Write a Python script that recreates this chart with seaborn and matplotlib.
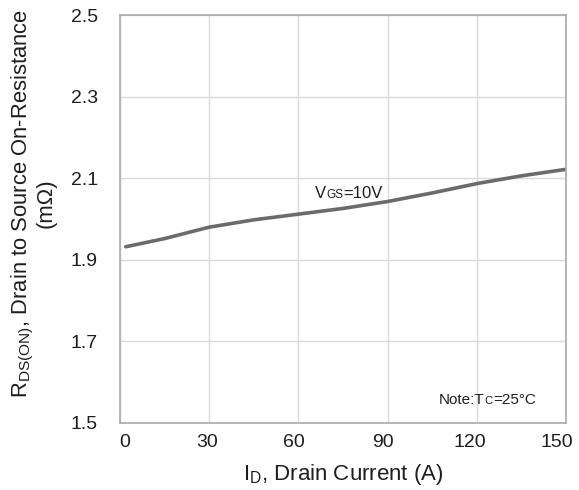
import matplotlib
matplotlib.use("Agg")
import matplotlib.pyplot as plt
import matplotlib.transforms as mtransforms
from matplotlib.offsetbox import TextArea, HPacker, AnnotationBbox
import seaborn as sns
import pandas as pd

# Data
current_a = [2, 15, 30, 45, 60, 75, 90, 105, 120, 135, 150]
rdson_mohm = [1.932, 1.952, 1.980, 1.998, 2.012, 2.026, 2.043, 2.064, 2.087, 2.106, 2.122]
x_ticks = [0, 30, 60, 90, 120, 150]
y_ticks = [1.5, 1.7, 1.9, 2.1, 2.3, 2.5]
curve_parts = ["V", "GS", "=10V"]
note_parts = ["Note:T", "C", "=25°C"]

sns.set_theme(style="white")
plt.rcParams["font.family"] = ["Liberation Sans", "DejaVu Sans"]
plt.rcParams["mathtext.fontset"] = "custom"
plt.rcParams["mathtext.rm"] = "Liberation Sans"
plt.rcParams["mathtext.it"] = "Liberation Sans"

df = pd.DataFrame({"I": current_a, "R": rdson_mohm})

fig, ax = plt.subplots(figsize=(5.79, 4.9), dpi=100)
fig.subplots_adjust(left=0.207, right=0.978, top=0.969, bottom=0.137)

sns.lineplot(data=df, x="I", y="R", ax=ax, color="#6b6b6b", linewidth=2.6)

ax.set_xlim(0, 150)
ax.set_ylim(1.5, 2.5)
ax.set_xticks(x_ticks)
ax.set_yticks(y_ticks)
ax.set_xticklabels([str(t) for t in x_ticks])
ax.set_yticklabels([f"{t:.1f}" for t in y_ticks])
ax.grid(True, color="#dadada", linewidth=1.0)
ax.tick_params(axis="both", length=0, labelsize=14, colors="#1e1e1e")
ax.tick_params(axis="y", pad=16)
ax.tick_params(axis="x", pad=8)
for s in ax.spines.values():
    s.set_color("#aaaaaa")
    s.set_linewidth(1.2)

# small horizontal shifts of the x tick labels as in the reference
x_shift_px = [5, -2, -5, -5, -7, -9]
for lab, dx in zip(ax.get_xticklabels(), x_shift_px):
    lab.set_transform(lab.get_transform() + mtransforms.ScaledTranslation(dx / 100, 0, fig.dpi_scale_trans))

ax.set_xlabel(r"I$_{\mathrm{D}}$, Drain Current (A)", fontsize=16, color="#1e1e1e", labelpad=8)
ax.set_ylabel(r"R$_{\mathrm{DS(ON)}}$, Drain to Source On-Resistance" + "\n(mΩ)",
              fontsize=15.8, color="#1e1e1e", linespacing=1.0)
ax.yaxis.set_label_coords(-0.141, 0.538)


def packed_label(parts, big, small, xy):
    boxes = []
    for i, p in enumerate(parts):
        boxes.append(TextArea(p, textprops=dict(fontsize=small if i == 1 else big, color="#1e1e1e")))
    pack = HPacker(children=boxes, align="baseline", pad=0, sep=0)
    ab = AnnotationBbox(pack, xy, xycoords="data", frameon=False, box_alignment=(0.5, 0.5))
    ax.add_artist(ab)


packed_label(curve_parts, 12, 8.5, (77, 2.063))
packed_label(note_parts, 11, 8, (123.5, 1.556))

fig.savefig("out.png", dpi=100)
